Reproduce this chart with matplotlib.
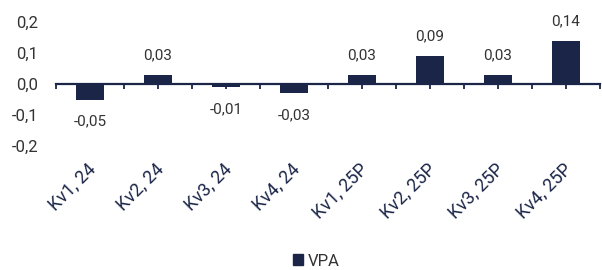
import numpy as np
import matplotlib.pyplot as plt
from matplotlib.patches import Patch
import matplotlib.transforms as mtransforms

plt.rcParams['font.family'] = ['Roboto', 'DejaVu Sans']

# data
categories = ['Kv1, 24', 'Kv2, 24', 'Kv3, 24', 'Kv4, 24',
              'Kv1, 25P', 'Kv2, 25P', 'Kv3, 25P', 'Kv4, 25P']
vpa = [-0.05, 0.03, -0.01, -0.03, 0.03, 0.09, 0.03, 0.14]
yticks = [-0.2, -0.1, 0.0, 0.1, 0.2]
series_name = 'VPA'

navy = '#1b2548'
text_col = '#333333'

fig = plt.figure(figsize=(6.02, 2.70), dpi=100)
W, H = 602, 270
ax = fig.add_axes([56 / W, 1 - 146 / H, 544 / W, 124 / H])

x = np.arange(len(categories))
bars = ax.bar(x, vpa, width=0.4, color=navy, zorder=2)

ax.set_xlim(-0.5, len(categories) - 0.5)
ax.set_ylim(-0.2, 0.2)

# zero axis line with downward ticks
for s in ['top', 'right', 'left']:
    ax.spines[s].set_visible(False)
ax.spines['bottom'].set_position(('data', 0))
ax.spines['bottom'].set_color(navy)
ax.spines['bottom'].set_linewidth(1.6)
ax.spines['bottom'].set_zorder(1)
ax.set_xticks(np.arange(-0.5, len(categories)), minor=False)
ax.set_xticks(x, minor=True)
ax.tick_params(axis='x', which='both', direction='out', length=3.5, width=1.3,
               color=navy, labelbottom=False)

# y axis
ax.set_yticks(yticks)
ax.set_yticklabels([f'{v:.1f}'.replace('.', ',') for v in yticks])
ax.tick_params(axis='y', length=0, pad=13, labelsize=12, labelcolor=text_col)

# category labels below the plot area
trans = mtransforms.blended_transform_factory(ax.transData, ax.transAxes)
for xi, lab in zip(x, categories):
    ax.text(xi - 0.05, -0.115, lab, transform=trans, rotation=45,
            rotation_mode='anchor', ha='right', va='top',
            fontsize=13, color=navy)

# data labels
for xi, v in zip(x, vpa):
    lab = f'{v:.2f}'.replace('.', ',')
    if v >= 0:
        ax.annotate(lab, (xi, v), xytext=(0, 9), textcoords='offset points',
                    ha='center', va='bottom', fontsize=11, color=text_col)
    else:
        ax.annotate(lab, (xi, v), xytext=(0, -11), textcoords='offset points',
                    ha='center', va='top', fontsize=11, color=text_col)

fig.legend(handles=[Patch(color=navy, label=series_name)], loc='lower center',
           bbox_to_anchor=(0.525, -0.05), frameon=False, fontsize=12,
           handlelength=0.6, handleheight=0.6, handletextpad=0.3,
           labelcolor=text_col)

fig.savefig('out.png', dpi=100)
